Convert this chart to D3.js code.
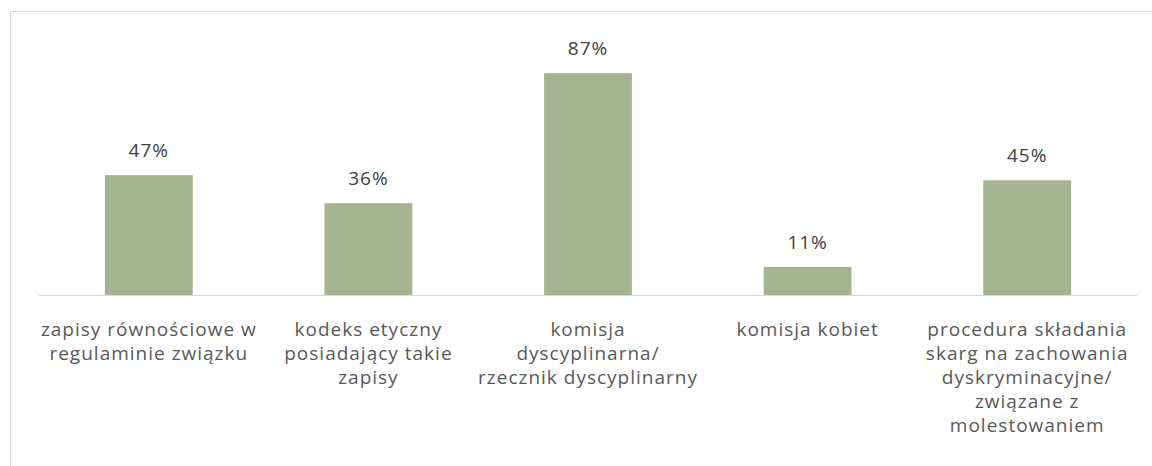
<!DOCTYPE html>
<html>
<head>
<meta charset="utf-8">
<script src="https://cdn.jsdelivr.net/npm/d3@7"></script>
<style>
  body { margin: 0; background: #fff; }
  svg { display: block; font-family: "Open Sans", Lato, sans-serif; }
</style>
</head>
<body>
<svg id="chart"></svg>
<script>
// categories, each already split into the lines shown under the axis
const categories = ["c1", "c2", "c3", "c4", "c5"];
const categoryLines = [
    ["zapisy równościowe w", "regulaminie związku"],
    ["kodeks etyczny", "posiadający takie", "zapisy"],
    ["komisja", "dyscyplinarna/", "rzecznik dyscyplinarny"],
    ["komisja kobiet"],
    ["procedura składania", "skarg na zachowania", "dyskryminacyjne/", "związane z", "molestowaniem"]
];
const values = [47, 36, 87, 11, 45];

const W = 1152, H = 466;
const svg = d3.select("#chart").attr("width", W).attr("height", H);

// light frame around the chart area (runs off the right/bottom edge)
svg.append("rect")
    .attr("x", 10.5).attr("y", 11.5)
    .attr("width", 1160).attr("height", 470)
    .attr("fill", "none")
    .attr("stroke", "#d9d9d9");

const x = d3.scaleBand()
    .domain(categories)
    .range([39, 1137])
    .paddingInner(0.6)
    .paddingOuter(0.3);

const y = d3.scaleLinear()
    .domain([0, 100])
    .range([295, 40]);

svg.selectAll("rect.bar")
    .data(values)
    .join("rect")
    .attr("class", "bar")
    .attr("x", (d, i) => x(categories[i]))
    .attr("y", d => y(d))
    .attr("width", x.bandwidth())
    .attr("height", d => y(0) - y(d))
    .attr("fill", "#a6b491");

// baseline
svg.append("line")
    .attr("x1", x.range()[0]).attr("x2", x.range()[1])
    .attr("y1", y(0) + 0.5).attr("y2", y(0) + 0.5)
    .attr("stroke", "#d9d9d9");

// value labels
svg.selectAll("text.val")
    .data(values)
    .join("text")
    .attr("class", "val")
    .attr("x", (d, i) => x(categories[i]) + x.bandwidth() / 2)
    .attr("y", d => y(d) - 18)
    .attr("text-anchor", "middle")
    .attr("font-size", 19)
    .attr("letter-spacing", 1)
    .attr("fill", "#404040")
    .text(d => d + "%");

// category labels
const labels = svg.selectAll("text.cat")
    .data(categoryLines)
    .join("text")
    .attr("class", "cat")
    .attr("text-anchor", "middle")
    .attr("font-size", 19)
    .attr("letter-spacing", 1)
    .attr("fill", "#595959")
    .attr("transform", (d, i) => `translate(${x(categories[i]) + x.bandwidth() / 2},${y(0) + 41})`);

labels.selectAll("tspan")
    .data(d => d)
    .join("tspan")
    .attr("x", 0)
    .attr("y", (d, i) => i * 24)
    .text(d => d);
</script>
</body>
</html>
